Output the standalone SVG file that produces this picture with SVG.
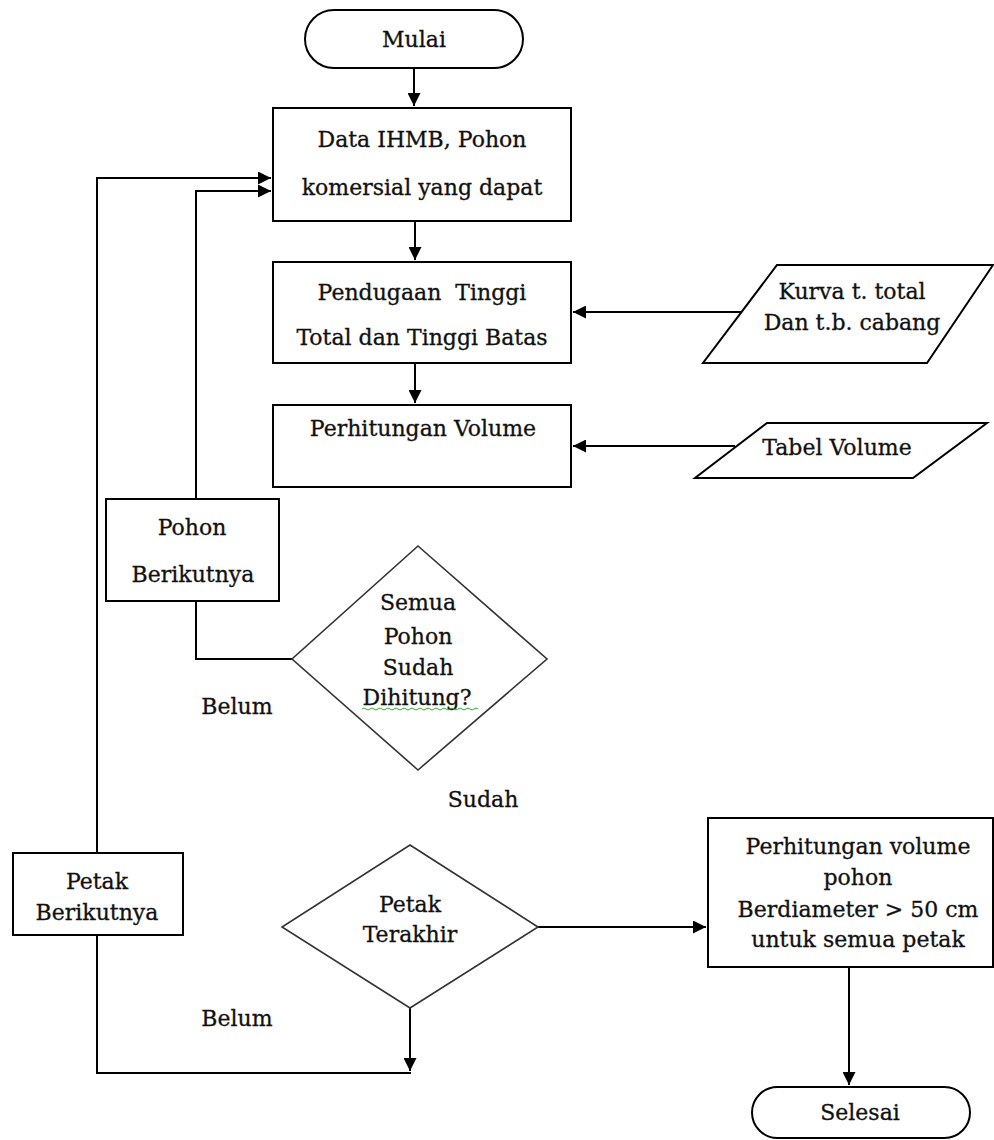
<svg xmlns="http://www.w3.org/2000/svg" width="994" height="1140" viewBox="0 0 994 1140">
<style>
.box{fill:#fff;stroke:#000;stroke-width:2}
.dia{fill:#fff;stroke:#333;stroke-width:1.6}
.t{font-family:"DejaVu Serif","Liberation Serif",serif;font-size:22px;fill:#111;stroke:#111;stroke-width:0.3;text-anchor:middle}
.c{fill:none;stroke:#000;stroke-width:2}
</style>
<defs>
<marker id="ah" markerUnits="userSpaceOnUse" markerWidth="14" markerHeight="13" refX="13" refY="6.5" orient="auto">
<path d="M0,0 L13,6.5 L0,13 z" fill="#000"/>
</marker>
</defs>
<rect width="994" height="1140" fill="#fff"/>
<g id="connectors">
<path class="c" d="M414,68 V106" marker-end="url(#ah)"/>
<path class="c" d="M415,221 V260" marker-end="url(#ah)"/>
<path class="c" d="M415,363 V403" marker-end="url(#ah)"/>
<path class="c" d="M742,312 H573" marker-end="url(#ah)"/>
<path class="c" d="M735,446 H573" marker-end="url(#ah)"/>
<path class="c" d="M292,659 H196 V601"/>
<path class="c" d="M196,499 V191 H271" marker-end="url(#ah)"/>
<path class="c" d="M97,853 V178 H271" marker-end="url(#ah)"/>
<path class="c" d="M410,1008 V1071" marker-end="url(#ah)"/>
<path class="c" d="M97,935 V1073 H411"/>
<path class="c" d="M538,927 H706" marker-end="url(#ah)"/>
<path class="c" d="M849,967 V1085" marker-end="url(#ah)"/>
</g>
<g id="mulai">
<rect class="box" x="305" y="10" width="218" height="58" rx="29" ry="29"/>
<text class="t" x="414" y="47">Mulai</text>
</g>
<g id="data">
<rect class="box" x="273" y="108" width="298" height="113"/>
<text class="t" x="422" y="147">Data IHMB, Pohon</text>
<text class="t" x="422" y="195">komersial yang dapat</text>
</g>
<g id="pendugaan">
<rect class="box" x="273" y="262" width="298" height="101"/>
<text class="t" x="422" y="300" xml:space="preserve">Pendugaan  Tinggi</text>
<text class="t" x="422" y="345">Total dan Tinggi Batas</text>
</g>
<g id="kurva">
<polygon class="box" points="777,265 993,265 927,363 703,363"/>
<text class="t" x="852" y="299">Kurva t. total</text>
<text class="t" x="852" y="330">Dan t.b. cabang</text>
</g>
<g id="perhitungan">
<rect class="box" x="273" y="405" width="298" height="82"/>
<text class="t" x="423" y="436">Perhitungan Volume</text>
</g>
<g id="tabel">
<polygon class="box" points="767,423 987,423 913,478 695,478"/>
<text class="t" x="837" y="455">Tabel Volume</text>
</g>
<g id="pohon-berikutnya">
<rect class="box" x="106" y="499" width="173" height="102"/>
<text class="t" x="192" y="535">Pohon</text>
<text class="t" x="193" y="582">Berikutnya</text>
</g>
<g id="semua-pohon">
<polygon class="dia" points="418,546 547,659 418,770 292,659"/>
<text class="t" x="418" y="610">Semua</text>
<text class="t" x="418" y="644">Pohon</text>
<text class="t" x="418" y="675">Sudah</text>
<text class="t" x="417" y="705">Dihitung?</text>
<path d="M362,709 q2,-2 4,0 t4,0 t4,0 t4,0 t4,0 t4,0 t4,0 t4,0 t4,0 t4,0 t4,0 t4,0 t4,0 t4,0 t4,0 t4,0 t4,0 t4,0 t4,0 t4,0 t4,0 t4,0 t4,0 t4,0 t4,0 t4,0 t4,0 t4,0 t4,0" fill="none" stroke="#3a3" stroke-width="1"/>
</g>
<g id="label-belum-1"><text class="t" x="237" y="714">Belum</text></g>
<g id="label-sudah"><text class="t" x="483" y="807">Sudah</text></g>
<g id="petak-berikutnya">
<rect class="box" x="13" y="853" width="170" height="82"/>
<text class="t" x="97" y="889">Petak</text>
<text class="t" x="97" y="920">Berikutnya</text>
</g>
<g id="petak-terakhir">
<polygon class="dia" points="410,845 538,927 410,1008 282,927"/>
<text class="t" x="410" y="912">Petak</text>
<text class="t" x="410" y="942">Terakhir</text>
</g>
<g id="label-belum-2"><text class="t" x="237" y="1026">Belum</text></g>
<g id="hasil">
<rect class="box" x="708" y="818" width="285" height="149"/>
<text class="t" x="858" y="854">Perhitungan volume</text>
<text class="t" x="858" y="885">pohon</text>
<text class="t" x="858" y="917">Berdiameter &gt; 50 cm</text>
<text class="t" x="858" y="947">untuk semua petak</text>
</g>
<g id="selesai">
<rect class="box" x="752" y="1087" width="218" height="51" rx="25.5" ry="25.5"/>
<text class="t" x="860" y="1120">Selesai</text>
</g>
</svg>
